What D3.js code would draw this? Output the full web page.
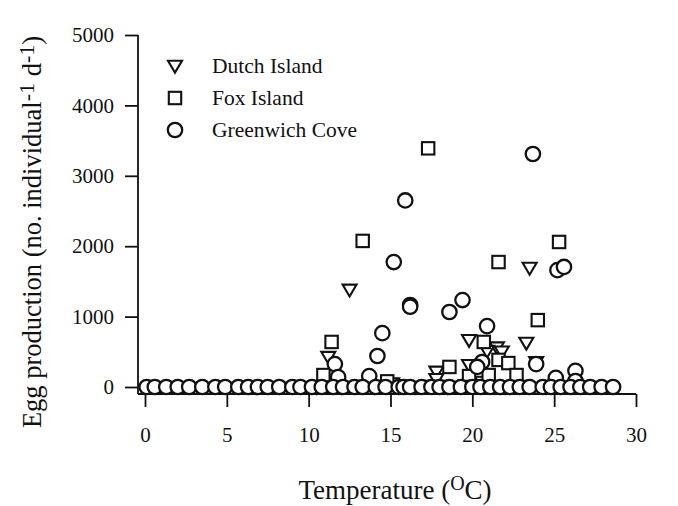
<!DOCTYPE html>
<html><head><meta charset="utf-8">
<script src="https://cdn.jsdelivr.net/npm/d3@7"></script>
<style>body{margin:0;background:#fff}svg{display:block}text{font-family:"Liberation Serif","Times New Roman",serif;fill:#111}</style>
</head><body><div id="chart"></div>
<script>
// Data: [temperature (°C), egg production]
const dutchIsland = [[12.5,1380],[23.5,1690],[23.3,625],[19.8,665],[21.5,560],[21.8,500],[20.9,510],[11.2,425],[19.8,310],[17.8,215],[17.8,110],[23.9,350],[20.6,70],[15.1,50],[10.5,0],[12.0,0],[14.0,0],[16.5,0],[18.5,0],[22.0,0],[24.5,0]];
const foxIsland = [[17.3,3390],[13.3,2075],[25.3,2060],[21.6,1775],[24.0,950],[11.4,640],[20.7,640],[18.6,285],[21.6,385],[22.2,340],[22.7,170],[19.8,155],[21.0,170],[10.9,170],[14.8,80],[17.4,0],[18.4,0],[11.8,0],[13.0,0],[16.0,0],[19.5,0],[23.0,0],[25.0,0]];
const greenwichCove = [[23.7,3310],[15.9,2650],[15.2,1775],[16.2,1165],[16.2,1140],[19.4,1235],[18.6,1065],[25.2,1660],[25.6,1705],[14.5,765],[20.9,865],[14.2,440],[11.6,325],[11.8,140],[13.7,155],[23.9,325],[20.6,355],[20.3,285],[25.1,130],[26.3,230],[26.3,85],
 [0.1,0],[0.6,0],[1.3,0],[2.0,0],[2.7,0],[3.5,0],[4.3,0],[4.9,0],[5.7,0],[6.3,0],[6.9,0],[7.5,0],[8.2,0],[9.0,0],[9.5,0],[10.2,0],[10.8,0],[11.5,0],[12.1,0],[12.8,0],[13.3,0],[14.1,0],[14.7,0],[15.5,0],[15.8,0],[16.2,0],[16.9,0],[17.5,0],[18.0,0],[18.6,0],[19.3,0],[20.0,0],[20.5,0],[21.1,0],[21.7,0],[22.3,0],[22.9,0],[23.5,0],[24.3,0],[24.8,0],[25.4,0],[26.0,0],[26.6,0],[27.2,0],[27.9,0],[28.6,0]];
const xTicks = [0,5,10,15,20,25,30];
const yTicks = [0,1000,2000,3000,4000,5000];
const seriesNames = ["Dutch Island","Fox Island","Greenwich Cove"];

const W=678,H=506;
const svg=d3.select("#chart").append("svg").attr("width",W).attr("height",H);
const x=d3.scaleLinear().domain([0,30]).range([145,636]);
const y=d3.scaleLinear().domain([0,5000]).range([387,35]);
const axisY=394, axisX=138;
const SW=2.1;

// axes
const xa=svg.append("g").attr("transform",`translate(0,${axisY})`)
 .call(d3.axisBottom(x).tickValues(xTicks).tickSize(13).tickPadding(20).tickFormat(d3.format("d")));
const ya=svg.append("g").attr("transform",`translate(${axisX},0)`)
 .call(d3.axisLeft(y).tickValues(yTicks).tickSize(13).tickPadding(11).tickFormat(d3.format("d")));
xa.select(".domain").attr("d",`M${axisX},0H${x(30)}`);
ya.select(".domain").attr("d",`M0,${y(5000)}V${axisY}`);
svg.selectAll(".domain,.tick line").attr("stroke","#111").attr("stroke-width",1.8);
svg.selectAll(".tick text").attr("font-size",21).attr("fill","#111").attr("font-family","Liberation Serif");

function triPath(cx,cy){const s=7;return `M${cx-s},${cy-s*0.75}L${cx+s},${cy-s*0.75}L${cx},${cy+s*0.95}Z`;}
function drawTri(g,data){
  g.selectAll("path").data(data).join("path")
   .attr("d",d=>triPath(x(d[0]),y(d[1])))
   .attr("fill","#fff").attr("stroke","#111").attr("stroke-width",SW);
}
function drawSq(g,data){
  g.selectAll("rect").data(data).join("rect")
   .attr("x",d=>x(d[0])-6.2).attr("y",d=>y(d[1])-6.2).attr("width",12.4).attr("height",12.4)
   .attr("fill","#fff").attr("stroke","#111").attr("stroke-width",SW);
}
function drawCirc(g,data){
  g.selectAll("circle").data(data).join("circle")
   .attr("cx",d=>x(d[0])).attr("cy",d=>y(d[1])).attr("r",7.2)
   .attr("fill","#fff").attr("stroke","#111").attr("stroke-width",SW+0.2);
}
drawTri(svg.append("g"),dutchIsland);
drawSq(svg.append("g"),foxIsland);
drawCirc(svg.append("g"),greenwichCove);

// legend
const lg=svg.append("g");
const ly=[66,98,130];
lg.append("path").attr("d",triPath(175,ly[0])).attr("fill","#fff").attr("stroke","#111").attr("stroke-width",SW);
lg.append("rect").attr("x",175-6.2).attr("y",ly[1]-6.2).attr("width",12.4).attr("height",12.4).attr("fill","#fff").attr("stroke","#111").attr("stroke-width",SW);
lg.append("circle").attr("cx",175).attr("cy",ly[2]).attr("r",7.2).attr("fill","#fff").attr("stroke","#111").attr("stroke-width",SW+0.2);
seriesNames.forEach((n,i)=>lg.append("text").attr("x",212).attr("y",ly[i]+7).attr("font-size",21.5).text(n));

// axis titles
const xt=svg.append("text").attr("x",395).attr("y",499).attr("text-anchor","middle").attr("font-size",27);
xt.append("tspan").text("Temperature (");
xt.append("tspan").attr("font-size",20).attr("dy",-9).text("O");
xt.append("tspan").attr("dy",9).text("C)");

const yt=svg.append("text").attr("transform","translate(41,232) rotate(-90)").attr("text-anchor","middle").attr("font-size",26.5);
yt.append("tspan").text("Egg production (no. individual");
yt.append("tspan").attr("font-size",22).attr("dy",-7).text("-1");
yt.append("tspan").attr("dy",7).text(" d");
yt.append("tspan").attr("font-size",22).attr("dy",-7).text("-1");
yt.append("tspan").attr("dy",7).text(")");
</script></body></html>
